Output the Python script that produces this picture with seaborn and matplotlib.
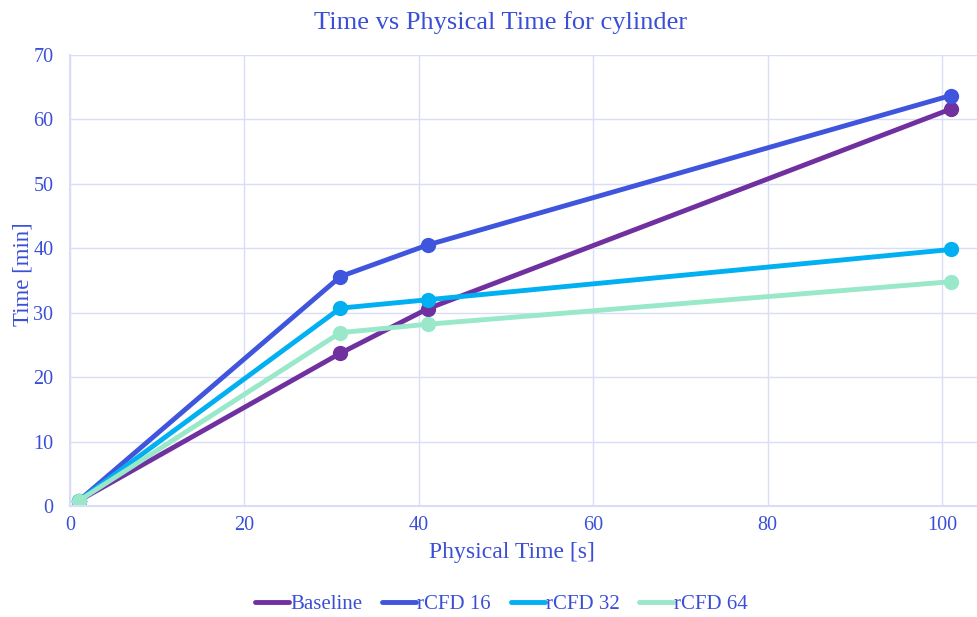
import matplotlib
matplotlib.use("Agg")
import matplotlib.pyplot as plt
import seaborn as sns
import pandas as pd

physical_time = [1, 31, 41, 101]
baseline = [0.8, 23.7, 30.6, 61.6]
rcfd16 = [0.8, 35.6, 40.5, 63.7]
rcfd32 = [0.8, 30.7, 32.0, 39.8]
rcfd64 = [0.8, 26.9, 28.2, 34.8]
series_names = ["Baseline", "rCFD 16", "rCFD 32", "rCFD 64"]
colors = ["#7030A0", "#3F55DD", "#00B0F0", "#98E8C9"]

rows = []
for name, vals in zip(series_names, [baseline, rcfd16, rcfd32, rcfd64]):
    for x, y in zip(physical_time, vals):
        rows.append({"Physical Time": x, "Time": y, "Series": name})
df = pd.DataFrame(rows)

sns.set_theme(style="white")
plt.rcParams['font.family'] = ['Liberation Serif', 'DejaVu Serif']
text_color = "#3A4FD6"
grid_color = "#D9DDF6"

fig = plt.figure(figsize=(9.77, 6.17), dpi=100)
ax = fig.add_axes([0.0717, 0.18, 0.9283, 0.731])

sns.lineplot(data=df, x="Physical Time", y="Time", hue="Series",
             palette=colors, hue_order=series_names, marker="o",
             markersize=11, markeredgewidth=0, linewidth=3.5, ax=ax,
             legend=True)

ax.set_xlim(0, 104)
ax.set_ylim(0, 70)
ax.set_xticks([0, 20, 40, 60, 80, 100])
ax.set_yticks(range(0, 71, 10))
ax.grid(True, color=grid_color, linewidth=1)
ax.set_axisbelow(True)
for s in ["top", "right"]:
    ax.spines[s].set_visible(False)
for s in ["left", "bottom"]:
    ax.spines[s].set_color(grid_color)
    ax.spines[s].set_linewidth(1.5)
ax.tick_params(axis="both", colors=text_color, labelsize=14.5, length=0)
ax.tick_params(axis="y", pad=12)
ax.tick_params(axis="x", pad=7)
ax.set_xlabel("Physical Time [s]", color=text_color, fontsize=17, labelpad=5, x=0.487)
ax.set_ylabel("Time [min]", color=text_color, fontsize=16.5, labelpad=0, y=0.513)
ax.set_title("Time vs Physical Time for cylinder", color=text_color, fontsize=19, pad=19, x=0.475)

handles, labels = ax.get_legend_handles_labels()
for h in handles:
    h.set_marker("")
leg = ax.legend(handles, labels, loc="center", bbox_to_anchor=(0.476, -0.218),
                ncol=4, frameon=False, fontsize=15, handlelength=1.63,
                handletextpad=0.05, columnspacing=0.95)
for t in leg.get_texts():
    t.set_color(text_color)

fig.savefig("out.png", dpi=100)
